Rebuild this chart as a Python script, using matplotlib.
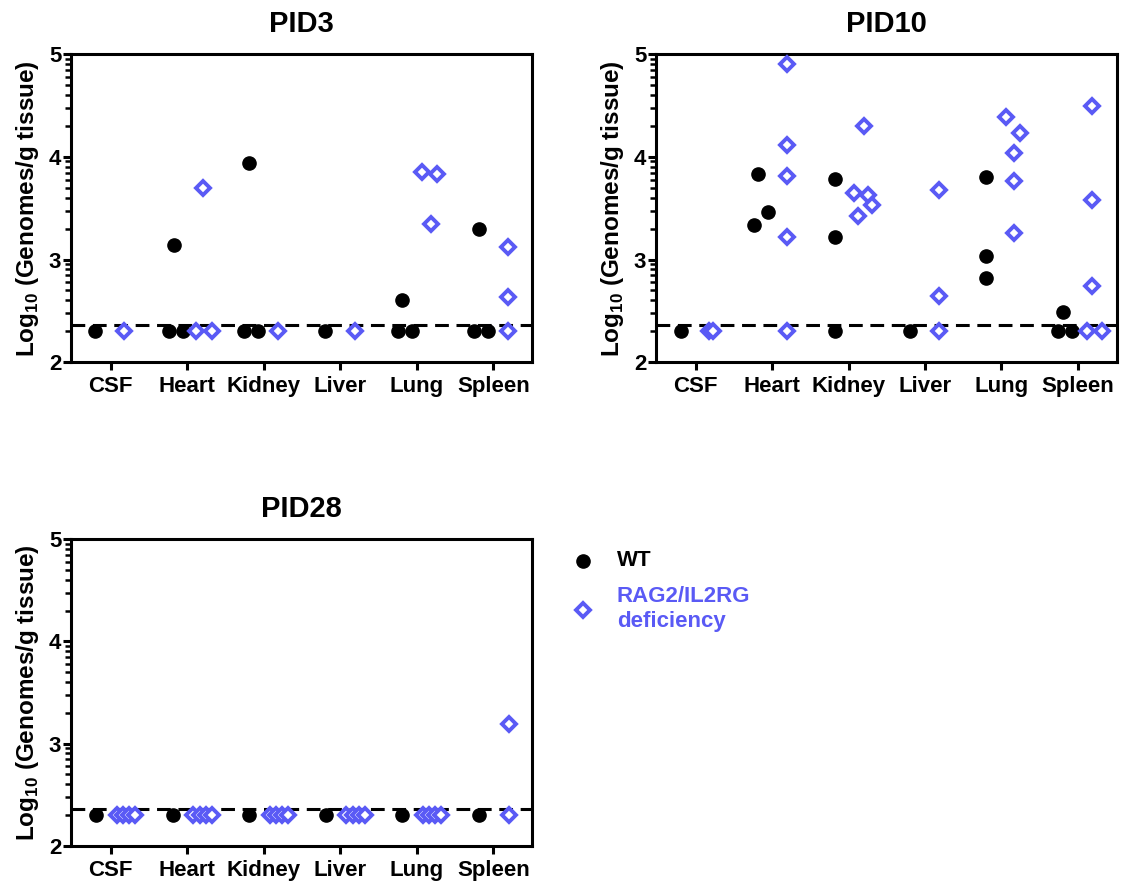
import matplotlib
matplotlib.use("Agg")
from matplotlib import pyplot as plt
from matplotlib.lines import Line2D
import numpy as np

plt.rcParams['font.family'] = ['Liberation Sans', 'DejaVu Sans']
plt.rcParams['font.weight'] = 'bold'
plt.rcParams['mathtext.fontset'] = 'custom'
plt.rcParams['mathtext.rm'] = 'Liberation Sans:bold'
plt.rcParams['mathtext.bf'] = 'Liberation Sans:bold'

categories = ['CSF', 'Heart', 'Kidney', 'Liver', 'Lung', 'Spleen']
lod = 2.36

# values per tissue
pid3_wt = [[2.3], [2.3, 2.3, 3.14], [2.3, 2.3, 3.94], [2.3], [2.3, 2.3, 2.61], [2.3, 2.3, 3.30]]
pid3_rag = [[2.3], [2.3, 2.3, 3.70], [2.3], [2.3], [3.85, 3.83, 3.35], [3.12, 2.64, 2.3]]

pid10_wt = [[2.3], [3.83, 3.46, 3.34], [3.78, 3.22, 2.3], [2.3], [3.80, 3.03, 2.82], [2.49, 2.3, 2.3]]
pid10_rag = [[2.3, 2.3], [4.90, 4.11, 3.81, 3.22, 2.3], [4.30, 3.65, 3.63, 3.42, 3.53],
             [3.68, 2.65, 2.3], [4.39, 4.23, 4.04, 3.76, 3.26], [4.49, 3.58, 2.74, 2.3, 2.3]]

pid28_wt = [[2.3], [2.3], [2.3], [2.3], [2.3], [2.3]]
pid28_rag = [[2.3, 2.3, 2.3, 2.3], [2.3, 2.3, 2.3, 2.3], [2.3, 2.3, 2.3, 2.3],
             [2.3, 2.3, 2.3, 2.3], [2.3, 2.3, 2.3, 2.3], [3.19, 2.3]]

# horizontal scatter of each point inside its column (layout only)
pid3_wt_dx = [[-0.2], [-0.24, -0.06, -0.18], [-0.26, -0.07, -0.19], [-0.2], [-0.25, -0.065, -0.19], [-0.26, -0.07, -0.19]]
pid3_rag_dx = [[0.17], [0.12, 0.32, 0.2], [0.19], [0.19], [0.07, 0.26, 0.19], [0.19, 0.19, 0.19]]
pid10_wt_dx = [[-0.19], [-0.18, -0.056, -0.24], [-0.18, -0.18, -0.18], [-0.19], [-0.2, -0.2, -0.2], [-0.19, -0.26, -0.07]]
pid10_rag_dx = [[0.17, 0.22], [0.2] * 5, [0.2, 0.075, 0.25, 0.126, 0.31], [0.19] * 3,
                [0.056, 0.24, 0.17, 0.17, 0.17], [0.19, 0.19, 0.19, 0.12, 0.32]]
pid28_wt_dx = [[-0.19]] * 6
pid28_rag_dx = [[0.08, 0.16, 0.24, 0.32]] * 5 + [[0.2, 0.2]]

blue = '#5A5AF5'
lw = 2.2

fig = plt.figure(figsize=(11.21, 8.86), dpi=100)
ax1 = fig.add_axes([0.0633, 0.5911, 0.4117, 0.3479])
ax2 = fig.add_axes([0.5852, 0.5911, 0.4110, 0.3479])
ax3 = fig.add_axes([0.0633, 0.0455, 0.4117, 0.3458])

panels = [(ax1, 'PID3', pid3_wt, pid3_wt_dx, pid3_rag, pid3_rag_dx),
          (ax2, 'PID10', pid10_wt, pid10_wt_dx, pid10_rag, pid10_rag_dx),
          (ax3, 'PID28', pid28_wt, pid28_wt_dx, pid28_rag, pid28_rag_dx)]

minor = [n + np.log10(k) for n in range(2, 5) for k in range(2, 10)]

for ax, title, wt, wt_dx, rag, rag_dx in panels:
    for i in range(len(categories)):
        ax.plot(i + np.array(wt_dx[i]), wt[i], 'o', color='black', markersize=9.5,
                linestyle='none', zorder=3, clip_on=False)
        ax.plot(i + np.array(rag_dx[i]), rag[i], 'D', markerfacecolor='white',
                markeredgecolor=blue, markeredgewidth=2.8, markersize=7.2,
                linestyle='none', zorder=4, clip_on=False)
    ax.axhline(lod, color='black', linewidth=lw, dashes=(4.5, 2.5), zorder=2)
    ax.set_xlim(-0.52, 5.51)
    ax.set_ylim(2, 5)
    ax.set_xticks(range(len(categories)))
    ax.set_xticklabels(categories, fontsize=16, fontweight='bold')
    ax.set_yticks([2, 3, 4, 5])
    ax.set_yticklabels(['2', '3', '4', '5'], fontsize=16, fontweight='bold')
    ax.set_yticks(minor, minor=True)
    ax.tick_params(axis='y', which='major', length=6, width=lw, pad=1)
    ax.tick_params(axis='y', which='minor', length=4, width=1.8)
    ax.tick_params(axis='x', which='major', length=6, width=lw, pad=4)
    for s in ax.spines.values():
        s.set_linewidth(lw)
    ax.set_ylabel(r'Log$_{\mathbf{10}}$ (Genomes/g tissue)', fontsize=17.5,
                  fontweight='bold', labelpad=6)
    ax.set_title(title, fontsize=21, fontweight='bold', pad=16)

# legend
fig.add_artist(Line2D([0.5198], [0.3672], marker='o', color='black', markersize=9.5,
                      linestyle='none', transform=fig.transFigure))
fig.add_artist(Line2D([0.5198], [0.3115], marker='D', markerfacecolor='white',
                      markeredgecolor=blue, markeredgewidth=2.8, markersize=7.2,
                      linestyle='none', transform=fig.transFigure))
fig.text(0.5504, 0.3672, 'WT', fontsize=16, fontweight='bold', va='center', ha='left')
fig.text(0.5504, 0.3126, 'RAG2/IL2RG\ndeficiency', fontsize=16, fontweight='bold',
         va='center', ha='left', color=blue, linespacing=1.25)

plt.savefig('out.png', dpi=100)
